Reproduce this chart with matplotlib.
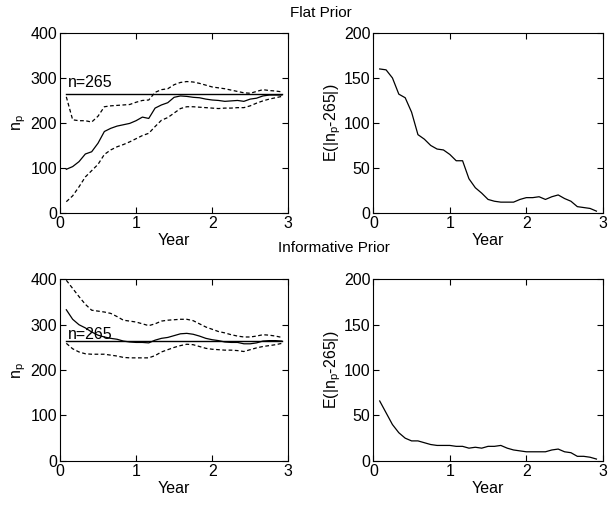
import numpy as np
import matplotlib
matplotlib.use("Agg")
import matplotlib.pyplot as plt

plt.rcParams['font.family'] = ['Liberation Sans', 'DejaVu Sans']
plt.rcParams['mathtext.default'] = 'regular'
plt.rcParams['font.size'] = 11.5

# monthly estimates, year = month / 12
months = np.arange(1, 36)
year = months / 12.0
n_true = 265

# flat prior: posterior median and bounds of n_p
flat_mid = [97, 103, 114, 131, 136, 155, 181, 188, 193, 196, 199, 205, 213, 210, 233,
            240, 245, 257, 260, 259, 257, 256, 253, 251, 250, 248, 249, 250, 248, 253,
            255, 260, 262, 262, 262]
flat_hi = [258, 207, 205, 205, 202, 215, 236, 238, 239, 240, 241, 246, 250, 251, 268,
           274, 276, 285, 290, 292, 291, 288, 284, 280, 278, 276, 273, 270, 267, 266,
           270, 274, 272, 271, 269]
flat_lo = [25, 38, 58, 80, 94, 108, 130, 140, 147, 152, 158, 165, 172, 177, 192,
           206, 212, 222, 232, 236, 236, 235, 234, 233, 232, 233, 233, 234, 234, 238,
           244, 249, 253, 256, 259]
flat_err = [160, 159, 150, 132, 128, 112, 87, 82, 75, 71, 70, 65, 58, 58, 38,
            28, 22, 15, 13, 12, 12, 12, 15, 17, 17, 18, 15, 18, 20, 16,
            13, 7, 6, 5, 2]

# informative prior
info_mid = [333, 312, 300, 293, 284, 277, 273, 270, 268, 264, 262, 261, 261, 260, 266,
            270, 272, 276, 280, 281, 279, 275, 270, 267, 265, 262, 261, 261, 258, 258,
            260, 264, 265, 265, 264]
info_hi = [398, 380, 362, 345, 332, 330, 328, 325, 318, 310, 308, 306, 302, 298, 302,
           308, 310, 311, 312, 312, 309, 302, 295, 290, 285, 282, 278, 275, 273, 273,
           275, 278, 277, 275, 272]
info_lo = [259, 247, 240, 236, 235, 235, 235, 233, 231, 228, 227, 227, 227, 227, 232,
           240, 245, 250, 254, 257, 256, 252, 248, 246, 245, 244, 244, 243, 241, 245,
           249, 252, 254, 256, 259]
info_err = [66, 53, 40, 31, 25, 22, 22, 20, 18, 17, 17, 17, 16, 16, 14,
            15, 14, 16, 16, 17, 14, 12, 11, 10, 10, 10, 10, 12, 13, 10,
            9, 5, 5, 4, 2]

fig = plt.figure(figsize=(6.12, 5.07), dpi=100)

def style(ax, ymax, ystep):
    ax.set_xlim(0, 3)
    ax.set_ylim(0, ymax)
    ax.set_xticks([0, 1, 2, 3])
    ax.set_yticks(np.arange(0, ymax + 1, ystep))
    ax.tick_params(direction='in', top=True, right=True, length=4, width=0.8, pad=2)
    for s in ax.spines.values():
        s.set_linewidth(0.8)
    ax.set_xlabel('Year', labelpad=2)

def np_panel(rect, lo, mid, hi, label_y):
    ax = fig.add_axes(rect)
    ax.plot(year, [n_true] * len(year), color='k', lw=1.0)
    ax.plot(year, mid, color='k', lw=0.9)
    ax.plot(year, hi, color='k', lw=0.9, ls=(0, (3, 2)))
    ax.plot(year, lo, color='k', lw=0.9, ls=(0, (3, 2)))
    ax.text(0.1, label_y, 'n=265', fontsize=11.5)
    style(ax, 400, 100)
    ax.set_ylabel('n$_p$', labelpad=2)
    return ax

def err_panel(rect, err):
    ax = fig.add_axes(rect)
    ax.plot(year, err, color='k', lw=0.9)
    style(ax, 200, 50)
    ax.set_ylabel('E(|n$_p$-265|)', labelpad=1)
    return ax

np_panel([0.098, 0.580, 0.373, 0.355], flat_lo, flat_mid, flat_hi, 280)
err_panel([0.610, 0.580, 0.375, 0.355], flat_err)
np_panel([0.098, 0.091, 0.373, 0.358], info_lo, info_mid, info_hi, 268)
err_panel([0.610, 0.091, 0.375, 0.358], info_err)

fig.text(0.525, 0.975, 'Flat Prior', ha='center', va='center', fontsize=11)
fig.text(0.545, 0.510, 'Informative Prior', ha='center', va='center', fontsize=11)

fig.savefig('out.png', dpi=100)
